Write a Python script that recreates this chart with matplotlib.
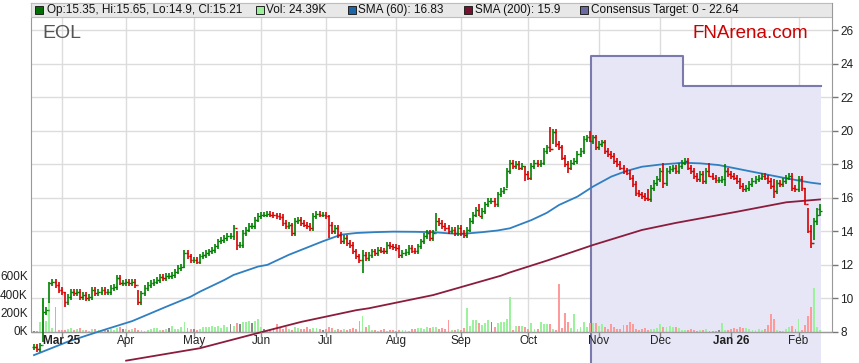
import numpy as np
import pandas as pd
import matplotlib
matplotlib.use("Agg")
import matplotlib.pyplot as plt
from matplotlib.patches import Rectangle
from matplotlib.transforms import blended_transform_factory

plt.rcParams["font.family"] = ["Liberation Sans", "DejaVu Sans"]

# --- данные ---
TICKER = "EOL"
START = "2025-02-18"  # первый торговый день на графике

CLOSE = [
    7.1, 7.0, 7.2, 9.2, 9.3, 10.9, 11.0, 10.8, 10.5, 10.4,
    9.8, 10.1, 10.4, 10.3, 10.4, 10.1, 10.2, 10.0, 10.1, 10.5,
    10.3, 10.4, 10.5, 10.4, 10.4, 10.6, 10.7, 11.2, 10.9, 10.9,
    11.0, 10.9, 11.0, 10.8, 9.8, 10.3, 10.6, 10.8, 10.9, 11.0,
    11.1, 11.3, 11.2, 11.35, 11.35, 11.4, 11.6, 11.8, 11.9, 12.7,
    12.5, 12.3, 12.3, 12.2, 12.5, 12.6, 12.7, 12.8, 12.9, 13.1,
    13.4, 13.5, 13.6, 13.7, 13.7, 14.2, 13.2, 13.2, 13.9, 14.1,
    14.3, 14.3, 14.7, 14.9, 15.0, 15.0, 15.05, 15.0, 14.95, 14.9,
    14.85, 14.5, 14.3, 14.4, 13.9, 14.6, 14.7, 14.5, 14.4, 14.3,
    14.2, 14.9, 15.05, 15.0, 15.0, 14.9, 14.4, 14.0, 14.2, 13.8,
    13.4, 13.6, 13.3, 13.2, 12.8, 12.5, 12.3, 12.6, 12.4, 12.6,
    12.8, 12.7, 12.9, 12.85, 12.8, 13.2, 13.1, 13.05, 13.0, 12.6,
    12.7, 12.75, 13.0, 12.85, 12.8, 13.1, 13.4, 13.7, 13.9, 13.6,
    13.9, 14.6, 14.5, 14.3, 14.2, 14.0, 14.1, 13.9, 14.2, 13.9,
    13.8, 14.1, 14.6, 15.0, 15.3, 14.9, 15.2, 15.6, 15.8, 15.8,
    15.6, 16.2, 16.4, 16.5, 17.6, 18.1, 17.9, 18.0, 17.8, 17.9,
    17.4, 17.2, 17.9, 18.1, 18.0, 18.1, 18.8, 19.0, 18.9, 19.9,
    19.2, 19.0, 18.4, 18.0, 17.8, 18.1, 18.2, 18.6, 18.8, 19.5,
    19.6, 19.4, 19.6, 19.0, 19.2, 19.3, 18.8, 18.6, 18.5, 18.2,
    18.0, 17.8, 17.6, 17.5, 17.2, 16.8, 16.3, 16.2, 16.1, 16.0,
    15.9, 16.6, 16.9, 17.1, 17.6, 16.9, 17.6, 17.7, 17.8, 17.6,
    17.9, 18.1, 18.2, 17.8, 17.6, 17.3, 17.1, 17.4, 17.0, 17.6,
    17.3, 17.2, 17.05, 17.05, 17.1, 17.6, 17.4, 17.3, 17.2, 17.0,
    16.7, 16.5, 16.6, 16.8, 17.0, 17.1, 17.2, 17.3, 17.2, 17.0,
    16.7, 16.4, 16.9, 16.8, 17.0, 17.2, 17.3, 16.6, 16.5,
    17.1, 16.6, 15.6, 14.0, 13.3, 14.6, 15.0, 15.21,
]
LAST_OPEN = 15.35

# бары с заметными хвостами: индекс -> (low, high)
BAR_RANGE = {
    3: (7.4, 10.0), 5: (9.7, 11.0), 10: (9.5, 10.4), 28: (10.8, 11.4),
    34: (9.6, 10.5), 49: (11.8, 12.9), 65: (13.5, 14.4), 66: (12.9, 14.0),
    84: (13.7, 14.5), 96: (13.6, 15.0), 107: (11.5, 12.9), 131: (14.0, 15.1),
    145: (14.9, 15.6), 154: (16.6, 17.8), 160: (17.0, 17.9), 168: (18.7, 20.2),
    169: (19.2, 20.1), 174: (17.5, 18.2), 181: (19.3, 20.0), 200: (15.8, 16.5),
    205: (16.6, 18.1), 220: (17.25, 18.1), 225: (16.7, 18.0), 241: (16.0, 17.1),
    251: (15.55, 16.6), 252: (13.9, 15.4), 253: (13.0, 14.4), 254: (13.5, 14.8),
    255: (14.4, 15.4), 256: (14.9, 15.65),
}
WICK = 0.17

VOLUME_K = [
    15, 10, 110, 360, 120, 330, 40, 270, 20, 25,
    20, 35, 40, 25, 30, 40, 20, 25, 15, 30,
    35, 25, 15, 20, 20, 30, 25, 45, 50, 30,
    35, 25, 30, 40, 25, 20, 15, 25, 35, 45,
    40, 20, 25, 30, 45, 70, 30, 35, 60, 105,
    40, 30, 35, 25, 30, 55, 50, 60, 65, 50,
    70, 45, 80, 60, 90, 70, 100, 85, 110, 115,
    120, 100, 125, 140, 60, 30, 25, 35, 40, 90,
    45, 30, 50, 35, 25, 55, 40, 35, 30, 50,
    35, 40, 45, 30, 20, 35, 50, 40, 25, 30,
    25, 30, 20, 35, 45, 30, 120, 180, 50, 80,
    20, 25, 15, 20, 30, 15, 25, 20, 15, 25,
    25, 20, 15, 30, 35, 40, 45, 35, 50, 40,
    50, 60, 35, 40, 30, 130, 25, 20, 30, 25,
    40, 260, 70, 130, 130, 100, 75, 100, 130, 110,
    60, 100, 110, 110, 140, 380, 25, 70, 65, 70,
    50, 35, 100, 30, 30, 110, 90, 90, 85, 30,
    25, 530, 40, 210, 110, 40, 200, 30, 60, 110,
    50, 100, 95, 100, 65, 90, 60, 30, 90, 50,
    35, 30, 75, 80, 110, 90, 30, 25, 35, 40,
    25, 35, 30, 40, 85, 55, 60, 65, 60, 60,
    40, 25, 25, 20, 30, 20, 15, 20, 20, 30,
    15, 10, 10, 20, 100, 25, 20, 30, 40, 30,
    60, 45, 40, 30, 25, 20, 30, 25, 30, 75,
    200, 140, 20, 10, 15, 30, 60, 65, 30,
    140, 20, 75, 175, 280, 480, 50, 24.39,
]

SMA60_IDX = [0, 11, 21, 32, 43, 51, 54, 62, 65, 73, 76, 83, 94, 100, 105,
             111, 117, 124, 130, 135, 139, 146, 151, 155, 162, 167, 171, 177,
             182, 188, 193, 198, 204, 209, 211, 217, 223, 234, 245, 253, 256]
SMA60_VAL = [6.62, 7.42, 8.02, 8.65, 9.5, 10.1, 10.4, 11.1, 11.4, 11.9, 12.0,
             12.6, 13.4, 13.8, 13.9, 13.95, 13.98, 13.97, 13.95, 13.88, 13.84,
             13.95, 14.05, 14.18, 14.67, 15.1, 15.57, 16.07, 16.66, 17.26,
             17.6, 17.85, 17.98, 18.05, 18.09, 18.05, 17.95, 17.55, 17.16,
             16.9, 16.83]

SMA200_IDX = [30, 54, 73, 87, 105, 109, 130, 152, 155, 167, 182, 198, 209,
              229, 245, 256]
SMA200_VAL = [6.29, 7.03, 7.94, 8.6, 9.3, 9.41, 10.2, 11.35, 11.55, 12.25,
              13.18, 14.08, 14.5, 15.17, 15.73, 15.9]

TARGET_IDX = [182, 212]
TARGET_VAL = [24.45, 22.64]

PRICE_TICKS = list(range(8, 27, 2))
VOL_TICKS = [0, 200, 400, 600]
VOL_SCALE = 3.25 / 600  # 600K = 3.25 единицы цены

LEGEND = [
    ("#007000", "Op:15.35, Hi:15.65, Lo:14.9, Cl:15.21", 35, 47),
    ("#99f099", "Vol: 24.39K", 256, 266),
    ("#1a66a8", "SMA (60): 16.83", 348, 358),
    ("#7a1030", "SMA (200): 15.9", 464, 475),
    ("#6a6aa0", "Consensus Target: 0 - 22.64", 580, 591),
]

GREEN = "#008000"
RED = "#d80000"
GRID = "#dcdcdc"


def main() -> None:
    n = len(CLOSE)
    x = np.arange(n)
    dates = pd.bdate_range(START, periods=n)
    close = np.array(CLOSE)
    prev = np.r_[close[0], close[:-1]]
    opens = prev.copy()
    opens[-1] = LAST_OPEN
    high = np.maximum(opens, close) + WICK
    low = np.minimum(opens, close) - WICK
    for i, (lo, hi) in BAR_RANGE.items():
        low[i], high[i] = lo, hi
    up = close >= prev
    bar_col = np.where(up, GREEN, RED)
    vol_col = np.where(close > prev, "#9cf29c", np.where(close < prev, "#ff9a9a", "#888888"))

    fig = plt.figure(figsize=(8.59, 3.63), dpi=100)
    ax = fig.add_axes([31 / 859, 0, 801 / 859, 360 / 363])
    x0, x1 = -0.98, 259.9
    y0, y1 = 6.15, 27.61
    ax.set_xlim(x0, x1)
    ax.set_ylim(y0, y1)
    band_bottom = 26.77

    # сетка
    for p in PRICE_TICKS:
        ax.hlines(p, x0, x1, color=GRID, lw=1, zorder=0)
    month_idx = [i for i in range(1, n) if dates[i].month != dates[i - 1].month]
    ax.vlines(month_idx, 8, band_bottom, color=GRID, lw=1, zorder=0)

    # консенсус-прогноз
    tx = [TARGET_IDX[0] - 0.5, TARGET_IDX[1] - 0.5, TARGET_IDX[1] - 0.5, n - 1 + 0.4]
    ty = [TARGET_VAL[0], TARGET_VAL[0], TARGET_VAL[1], TARGET_VAL[1]]
    ax.fill_between(tx, y0, ty, color="#e6e6f6", lw=0, zorder=1)
    ax.plot([tx[0]] + tx, [y0] + ty, color="#7a7aac", lw=1.5, zorder=2)

    # объём
    ax.bar(x, np.array(VOLUME_K) * VOL_SCALE, bottom=8, width=0.62,
           color=vol_col, lw=0, zorder=2)
    ax.hlines(8, x0, x1, color="#9a9a9a", lw=1, zorder=3)

    # скользящие средние
    ax.plot(SMA60_IDX, SMA60_VAL, color="#2f7fc1", lw=1.3, zorder=3)
    ax.plot(SMA200_IDX, SMA200_VAL, color="#8b1c3c", lw=1.3, zorder=3)

    # OHLC-бары
    ax.vlines(x, low, high, colors=bar_col, lw=1.2, zorder=4)
    ax.hlines(opens, x - 0.55, x, colors=bar_col, lw=1, zorder=4)
    ax.hlines(close, x, x + 0.55, colors=bar_col, lw=1, zorder=4)

    # подписи месяцев
    for i in month_idx:
        d = dates[i]
        year_mark = d.month == 1 or i == month_idx[0]
        label = d.strftime("%b %y") if year_mark else d.strftime("%b")
        ax.text(i, 7.46, label, ha="center", va="center", fontsize=8.5,
                color="#222222", fontweight="bold" if year_mark else "normal", zorder=6)
        ax.vlines(i, 7.72, 8, color="#888888", lw=1, zorder=5)

    # оси
    ax.spines["bottom"].set_visible(False)
    for side in ("left", "right", "top"):
        ax.spines[side].set_color("#999999")
    ax.spines["left"].set_bounds(8, y1)
    ax.spines["right"].set_bounds(8, y1)
    ax.set_xticks([])
    ax.yaxis.tick_right()
    ax.set_yticks(PRICE_TICKS)
    ax.tick_params(axis="y", length=4, width=1, color="#777777", labelsize=8.5,
                   labelcolor="#222222", pad=2)

    trans = blended_transform_factory(ax.transAxes, ax.transData)
    for v in VOL_TICKS:
        ax.text(-0.004, 8 + v * VOL_SCALE, f"{v}K", transform=trans, ha="right",
                va="center", fontsize=8.5, color="#222222")

    # полоса легенды
    band_h = 14 / 360
    ax.add_patch(Rectangle((0, 1 - band_h), 1, band_h, transform=ax.transAxes,
                           facecolor="#e8e8e8", edgecolor="#bdbdbd", lw=0.8, zorder=7))
    ly = 1 - band_h / 2
    for color, text, sq_px, tx_px in LEGEND:
        ax.add_patch(Rectangle(((sq_px - 31) / 801, ly - 4 / 360), 8 / 801, 8 / 360,
                               transform=ax.transAxes, facecolor=color,
                               edgecolor="#222222", lw=0.7, zorder=8))
        ax.text((tx_px - 31) / 801, ly, text, transform=ax.transAxes, ha="left",
                va="center", fontsize=8.5, color="#111111", zorder=8)

    ax.text((42 - 31) / 801, 1 - 30 / 360, TICKER, transform=ax.transAxes,
            ha="left", va="center", fontsize=14, color="#555555", zorder=6)
    ax.text((808 - 31) / 801, 1 - 30 / 360, "FNArena.com", transform=ax.transAxes,
            ha="right", va="center", fontsize=13.5, color="#cc0000", zorder=6)

    fig.savefig("out.png", dpi=100)


if __name__ == "__main__":
    main()
